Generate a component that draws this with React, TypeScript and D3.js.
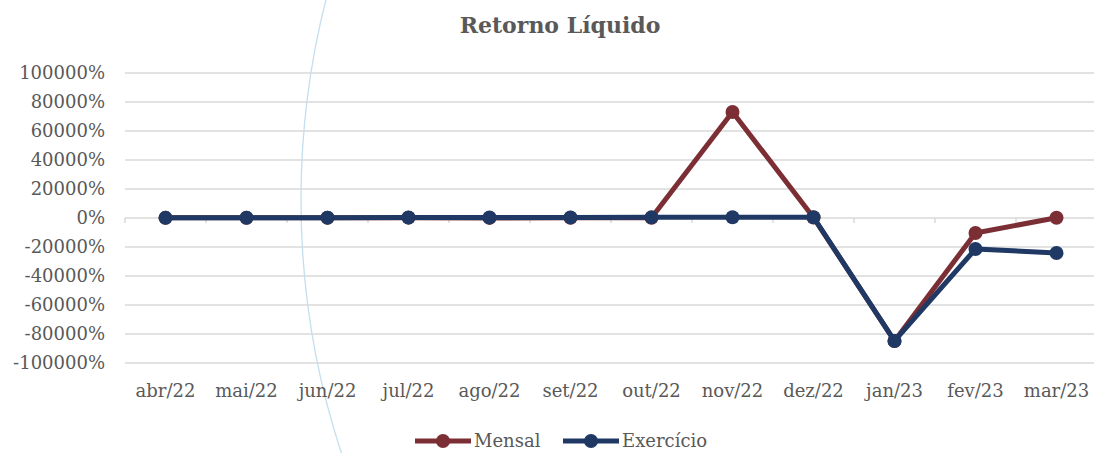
import * as d3 from "d3";
import { useEffect, useRef } from "react";

const months = ["abr/22", "mai/22", "jun/22", "jul/22", "ago/22", "set/22", "out/22", "nov/22", "dez/22", "jan/23", "fev/23", "mar/23"];
const mensal = [110, 90, 150, 230, 70, 100, 130, 73100, 320, -84800, -10300, 150];
const exercicio = [110, 180, 250, 320, 360, 400, 440, 480, 520, -84800, -21400, -24100];
const yTicks = [-100000, -80000, -60000, -40000, -20000, 0, 20000, 40000, 60000, 80000, 100000];
const seriesNames = ["Mensal", "Exercício"];
const seriesColors = ["#7B2F35", "#1F3864"];

const W = 1094;
const H = 453;
const FONT = "'DejaVu Serif', 'Liberation Serif', serif";

export default function App() {
  const svgRef = useRef(null);

  useEffect(() => {
    const svg = d3.select(svgRef.current);
    svg.selectAll("*").remove();

    // decorative arc in the background
    svg
      .append("circle")
      .attr("cx", 1113)
      .attr("cy", 200)
      .attr("r", 812)
      .attr("fill", "none")
      .attr("stroke", "#C3DFEE")
      .attr("stroke-width", 1.3);

    const x = d3.scaleBand().domain(months).range([125, 1097]);
    const y = d3.scaleLinear().domain([-100000, 100000]).range([363, 73]);

    // gridlines
    svg
      .append("g")
      .selectAll("line")
      .data(yTicks)
      .join("line")
      .attr("x1", 125)
      .attr("x2", W)
      .attr("y1", (d) => y(d))
      .attr("y2", (d) => y(d))
      .attr("stroke", "#D9D9D9")
      .attr("stroke-width", 1.5);

    // category ticks on the zero line
    svg
      .append("g")
      .selectAll("line")
      .data(months)
      .join("line")
      .attr("x1", (d) => x(d) || 0)
      .attr("x2", (d) => x(d) || 0)
      .attr("y1", y(0))
      .attr("y2", y(0) + 5)
      .attr("stroke", "#D9D9D9")
      .attr("stroke-width", 1.5);

    // y labels
    svg
      .append("g")
      .selectAll("text")
      .data(yTicks)
      .join("text")
      .attr("x", 105)
      .attr("y", (d) => y(d))
      .attr("dy", "0.36em")
      .attr("text-anchor", "end")
      .attr("font-family", FONT)
      .attr("font-size", 18)
      .attr("fill", "#595959")
      .text((d) => `${d}%`);

    // x labels
    svg
      .append("g")
      .selectAll("text")
      .data(months)
      .join("text")
      .attr("x", (d) => (x(d) || 0) + x.bandwidth() / 2)
      .attr("y", 397)
      .attr("text-anchor", "middle")
      .attr("font-family", FONT)
      .attr("font-size", 18)
      .attr("fill", "#595959")
      .text((d) => d);

    const line = d3
      .line<number>()
      .x((_, i) => (x(months[i]) || 0) + x.bandwidth() / 2)
      .y((d) => y(d));

    [mensal, exercicio].forEach((vals, si) => {
      const g = svg.append("g");
      g.append("path")
        .attr("d", line(vals))
        .attr("fill", "none")
        .attr("stroke", seriesColors[si])
        .attr("stroke-width", 5)
        .attr("stroke-linejoin", "round");
      g.selectAll("circle")
        .data(vals)
        .join("circle")
        .attr("cx", (_, i) => (x(months[i]) || 0) + x.bandwidth() / 2)
        .attr("cy", (d) => y(d))
        .attr("r", 7)
        .attr("fill", seriesColors[si]);
    });

    // title
    svg
      .append("text")
      .attr("x", 560)
      .attr("y", 33)
      .attr("text-anchor", "middle")
      .attr("font-family", FONT)
      .attr("font-weight", "bold")
      .attr("font-size", 22)
      .attr("fill", "#595959")
      .text("Retorno Líquido");

    // legend
    const legendX = [415, 563];
    seriesNames.forEach((name, i) => {
      const lg = svg.append("g").attr("transform", `translate(${legendX[i]},441)`);
      lg.append("line")
        .attr("x1", 0)
        .attr("x2", 56)
        .attr("stroke", seriesColors[i])
        .attr("stroke-width", 5);
      lg.append("circle").attr("cx", 28).attr("r", 7).attr("fill", seriesColors[i]);
      lg.append("text")
        .attr("x", 59)
        .attr("dy", "0.36em")
        .attr("font-family", FONT)
        .attr("font-size", 18)
        .attr("fill", "#595959")
        .text(name);
    });
  }, []);

  return (
    <svg
      ref={svgRef}
      width={W}
      height={H}
      style={{ position: "absolute", left: 0, top: 0, display: "block", background: "#fff" }}
    />
  );
}
